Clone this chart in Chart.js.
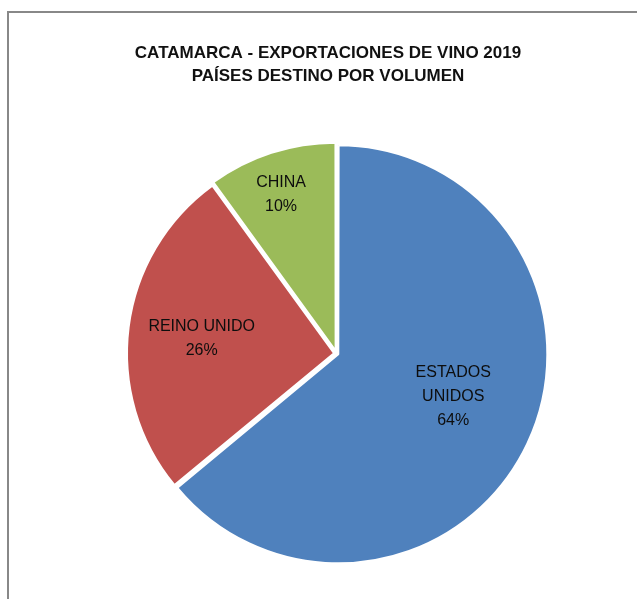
<!DOCTYPE html>
<html>
<head>
<meta charset="utf-8">
<script src="https://cdn.jsdelivr.net/npm/chart.js@4"></script>
<style>
  html, body { margin: 0; padding: 0; background: #fff; overflow: hidden; width: 637px; height: 599px; }
  #frame { position: absolute; left: 7px; top: 11px; width: 700px; height: 700px; border: 2px solid #888888; box-sizing: border-box; z-index: 0; }
  #c { position: absolute; left: 0; top: 0; z-index: 1; }
</style>
</head>
<body>
<div id="frame"></div>
<canvas id="c" width="637" height="599"></canvas>
<script>
const TITLE_LINES = ['CATAMARCA - EXPORTACIONES DE VINO 2019', 'PAÍSES DESTINO POR VOLUMEN'];
const CATEGORIES = ['ESTADOS UNIDOS', 'REINO UNIDO', 'CHINA'];
const SHARES = [64, 26, 10];
const LABEL_LINES = [['ESTADOS', 'UNIDOS'], ['REINO UNIDO'], ['CHINA']];
const COLORS = ['#4F81BD', '#C0504D', '#9BBB59'];

// label placement relative to each slice's own vertex (fraction of radius, angular tweak in degrees)
const LABEL_PLACE = [{frac: 0.581, turn: -5.3}, {frac: 0.643, turn: -0.9}, {frac: 0.796, turn: -1.2}];
const LABEL_LINE_H = 24;

const titlePlugin = {
  id: 'manualTitle',
  afterDraw(chart) {
    const ctx = chart.ctx;
    ctx.save();
    ctx.font = 'bold 17px "Liberation Sans", Arial, sans-serif';
    ctx.fillStyle = '#111111';
    ctx.textAlign = 'center';
    ctx.textBaseline = 'middle';
    TITLE_LINES.forEach((s, k) => ctx.fillText(s, 328, 53 + k * 23));
    ctx.restore();
  }
};

const labelPlugin = {
  id: 'sliceLabels',
  afterDatasetsDraw(chart) {
    const meta = chart.getDatasetMeta(0);
    const ds = chart.data.datasets[0];
    const total = ds.data.reduce((a, b) => a + b, 0);
    const ctx = chart.ctx;
    ctx.save();
    ctx.font = '16px "Liberation Sans", Arial, sans-serif';
    ctx.fillStyle = '#0d0d0d';
    ctx.textAlign = 'center';
    ctx.textBaseline = 'middle';
    meta.data.forEach((arc, i) => {
      const p = arc.getProps(['x', 'y', 'startAngle', 'endAngle', 'outerRadius', 'circumference'], true);
      const offset = arc.options.offset || 0;
      const mid = (p.startAngle + p.endAngle) / 2;
      const fix = 1 - Math.sin(Math.min(Math.PI, p.circumference || 0));
      const t = offset / 4 * (1 + fix);
      const vx = p.x + Math.cos(mid) * t;
      const vy = p.y + Math.sin(mid) * t;
      const a = mid + LABEL_PLACE[i].turn * Math.PI / 180;
      const d = LABEL_PLACE[i].frac * p.outerRadius;
      const cx = vx + Math.cos(a) * d;
      const cy = vy + Math.sin(a) * d;
      const lines = [...LABEL_LINES[i], Math.round(ds.data[i] / total * 100) + '%'];
      lines.forEach((s, k) => ctx.fillText(s, cx, cy + (k - (lines.length - 1) / 2) * LABEL_LINE_H));
    });
    ctx.restore();
  }
};

new Chart(document.getElementById('c'), {
  type: 'pie',
  data: {
    labels: CATEGORIES,
    datasets: [{
      data: SHARES,
      backgroundColor: COLORS,
      borderColor: '#ffffff',
      borderWidth: 2,
      offset: [8, 10, 11.3]
    }]
  },
  options: {
    responsive: false,
    animation: false,
    radius: 207,
    layout: { padding: { left: 40, right: 4, top: 110, bottom: 2 } },
    plugins: {
      legend: { display: false },
      title: { display: false },
      tooltip: { enabled: false }
    }
  },
  plugins: [labelPlugin, titlePlugin]
});
</script>
</body>
</html>
